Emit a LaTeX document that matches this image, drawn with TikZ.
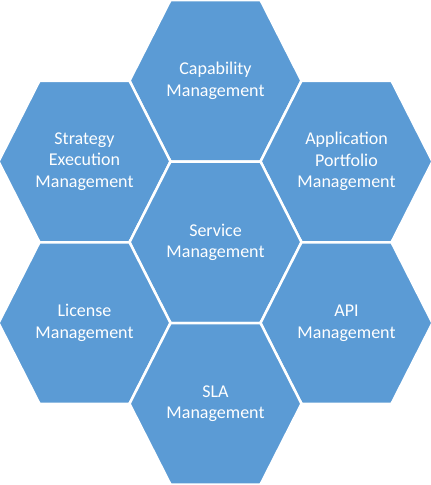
\documentclass[tikz,border=0pt]{standalone}
\usepackage{fontspec}
\setmainfont{Carlito}
\definecolor{hexblue}{HTML}{5B9BD5}
\tikzset{
  hexcell/.style={fill=hexblue, draw=white, line width=2.5pt, line join=miter},
  hexlabel/.style={text=white, align=center, font=\fontsize{18}{21.6}\selectfont, inner sep=0pt}
}
\newcommand{\hexat}[4]{% name, cx, cy, text
  \path[hexcell] (#2-86,#3) -- (#2-45,#3-80.75) -- (#2+45,#3-80.75) -- (#2+86,#3) -- (#2+45,#3+80.75) -- (#2-45,#3+80.75) -- cycle;
  \node[hexlabel] (#1) at (#2,#3) {#4};
}
\begin{document}
\begin{tikzpicture}[x=1pt,y=-1pt]
\useasboundingbox (0,0) rectangle (431,485);
\hexat{cap}{215.5}{80.75}{Capability\\Management}
\hexat{strat}{84.5}{161.5}{Strategy\\Execution\\Management}
\hexat{app}{346.5}{161.5}{Application\\Portfolio\\Management}
\hexat{serv}{215.5}{242.25}{Service\\Management}
\hexat{lic}{84.5}{323}{License\\Management}
\hexat{api}{346.5}{323}{API\\Management}
\hexat{sla}{215.5}{403.75}{SLA\\Management}
\end{tikzpicture}
\end{document}
